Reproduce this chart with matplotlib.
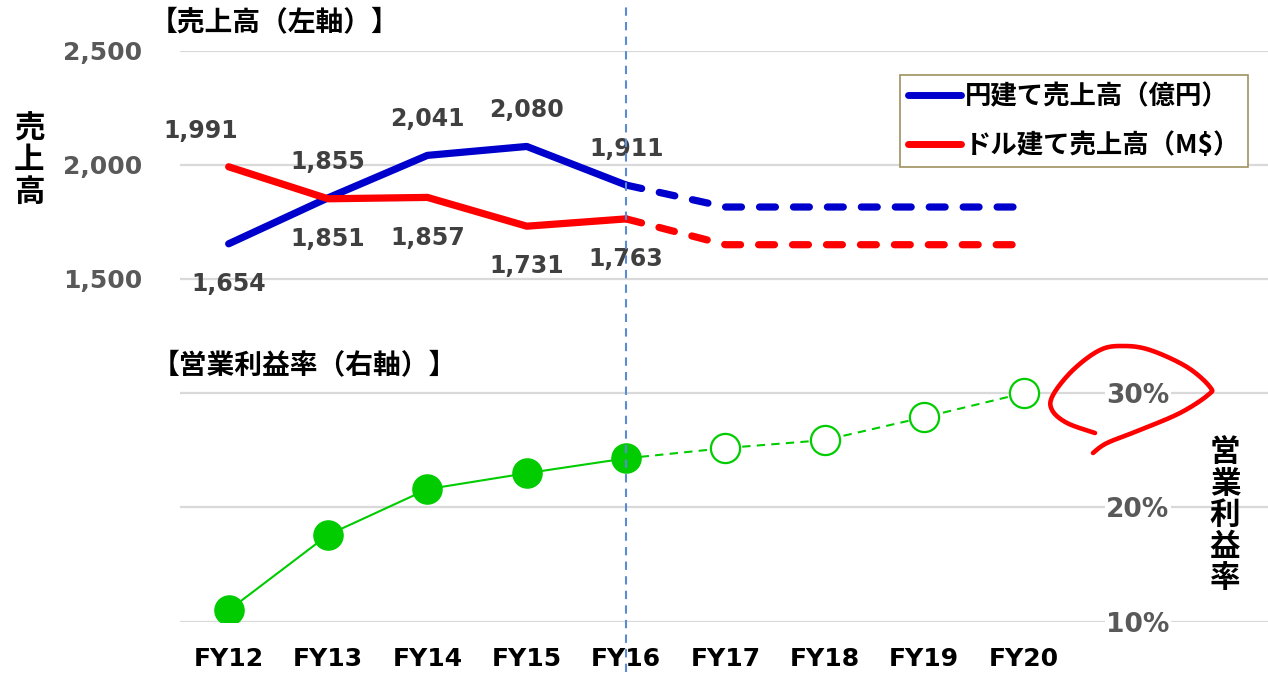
import numpy as np
import matplotlib
matplotlib.use("Agg")
import matplotlib.pyplot as plt
from matplotlib.lines import Line2D

plt.rcParams['font.family'] = ['DejaVu Sans']
JP = ['Noto Sans CJK JP', 'DejaVu Sans']

# data
years = ['FY12', 'FY13', 'FY14', 'FY15', 'FY16', 'FY17', 'FY18', 'FY19', 'FY20']
n_actual = 5  # FY12-FY16 actual, rest are plan
sales_yen = [1654, 1855, 2041, 2080, 1911, 1815, 1815, 1815, 1815]
sales_usd = [1991, 1851, 1857, 1731, 1763, 1650, 1650, 1650, 1650]
op_margin = [11.0, 17.6, 21.6, 23.0, 24.3, 25.2, 25.9, 27.9, 30.0]
left_ticks = [1500, 2000, 2500]
right_ticks = [10, 20, 30]

BLUE = '#0000CC'
RED = '#FF0000'
GREEN = '#00CC00'
GRID = '#D9D9D9'

W, H = 1268, 676
fig = plt.figure(figsize=(W / 100, H / 100), dpi=100)
ax_l, ax_r, ax_t, ax_b = 180, 1268, 50.5, 621.7
ax = fig.add_axes([ax_l / W, 1 - ax_b / H, (ax_r - ax_l) / W, (ax_b - ax_t) / H])
ax2 = ax.twinx()

x = np.arange(len(years))
xa = x[:n_actual]
xp = x[n_actual - 1:]

# sales lines
for vals, col in [(sales_yen, BLUE), (sales_usd, RED)]:
    ax.plot(xa, vals[:n_actual], color=col, lw=5.2, solid_capstyle='round',
            solid_joinstyle='round', zorder=3)
    ax.plot(xp, vals[n_actual - 1:], color=col, lw=5.2, dashes=(2.2, 2.5),
            dash_capstyle='round', zorder=3)

# data labels: higher series above, lower below
for i in range(n_actual):
    for vals, other in [(sales_yen, sales_usd), (sales_usd, sales_yen)]:
        above = vals[i] > other[i]
        dx = -20 if (i == 0 and above) else 0
        dy = 26 if above else -29
        ax.annotate(f'{vals[i]:,}', (x[i], vals[i]), xytext=(dx, dy),
                    textcoords='offset points', ha='center', va='center',
                    fontsize=17, fontweight='bold', color='#404040')

ax.set_ylim(0, 2500)
ax.set_xlim(-0.49, 10.46)
ax.set_yticks(left_ticks)
ax.set_yticklabels([f'{v:,}' for v in left_ticks])
ax.tick_params(axis='y', length=0, pad=27, labelsize=18, labelcolor='#595959')
ax.set_xticks(x)
ax.set_xticklabels(years)
ax.tick_params(axis='x', length=0, pad=18, labelsize=18, labelcolor='black')
for lbl in ax.get_xticklabels() + ax.get_yticklabels():
    lbl.set_fontweight('bold')
ax.yaxis.grid(True, color=GRID, lw=1.6)
ax.set_axisbelow(True)

# operating margin
ax2.plot(xa, op_margin[:n_actual], color=GREEN, lw=1.5, marker='o', ms=21,
         mfc=GREEN, mec=GREEN, zorder=3)
ax2.plot(xp, op_margin[n_actual - 1:], color=GREEN, lw=1.5, dashes=(4, 3),
         zorder=2)
ax2.plot(x[n_actual:], op_margin[n_actual:], ls='none', marker='o', ms=21,
         mfc='white', mec=GREEN, mew=1.6, zorder=3)
ax2.set_ylim(10, 60)
ax2.set_yticks(right_ticks)
ax2.set_yticklabels([f'{v}%' for v in right_ticks])
ax2.tick_params(axis='y', length=0, pad=-93.6, labelsize=19, labelcolor='#595959')
for lbl in ax2.get_yticklabels():
    lbl.set_fontweight('bold')
    lbl.set_ha('center')
    lbl.set_bbox(dict(facecolor='white', edgecolor='none', pad=1))
ax2.yaxis.grid(True, color=GRID, lw=1.6)
ax2.set_axisbelow(True)

for a in (ax, ax2):
    for s in a.spines.values():
        s.set_visible(False)

# divider between actual and plan
ax2.axvline(x[n_actual - 1], ymin=(ax_b - 672) / (ax_b - ax_t),
            ymax=(ax_b - 5) / (ax_b - ax_t), color='#5B8BD0', lw=1.5,
            dashes=(4, 3), clip_on=False, zorder=5)

# legend
handles = [Line2D([], [], color=BLUE, lw=5, solid_capstyle='round'),
           Line2D([], [], color=RED, lw=5, solid_capstyle='round')]
leg = ax2.legend(handles, ['円建て売上高（億円）', 'ドル建て売上高（M$）'],
                 loc='upper right', bbox_to_anchor=(1248 / W, 1 - 75 / H),
                 bbox_transform=fig.transFigure, fancybox=False, framealpha=1,
                 edgecolor='#A0915F', handlelength=2.0, handletextpad=0.15,
                 labelspacing=0.85, borderpad=0.3, borderaxespad=0,
                 prop=dict(family=JP, weight='bold', size=19))
leg.get_frame().set_linewidth(1.2)

# titles and axis names
fig.text(150 / W, 1 - 23 / H, '【売上高（左軸）】', ha='left', va='center',
         family=JP, fontweight='bold', fontsize=20)
fig.text(152 / W, 1 - 366 / H, '【営業利益率（右軸）】', ha='left', va='center',
         family=JP, fontweight='bold', fontsize=20)
fig.text(29 / W, 1 - 160 / H, '売\n上\n高', ha='center', va='center',
         family=JP, fontweight='bold', fontsize=22, linespacing=0.98)
fig.text(1225 / W, 1 - 515 / H, '営\n業\n利\n益\n率', ha='center', va='center',
         family=JP, fontweight='bold', fontsize=22, linespacing=0.98)

# red hand-drawn circle around 30%
pts = np.array([(1095, 433), (1067, 423), (1052, 410), (1053, 395), (1073, 370),
                (1100, 350), (1123, 346), (1150, 350), (1187, 367), (1210, 387),
                (1208, 395), (1180, 413), (1140, 430), (1107, 443), (1093, 453)],
               dtype=float)
P = np.vstack([pts[0], pts, pts[-1]])
curve = []
for k in range(1, len(P) - 2):
    p0, p1, p2, p3 = P[k - 1], P[k], P[k + 1], P[k + 2]
    for t in np.linspace(0, 1, 12, endpoint=False):
        curve.append(0.5 * ((2 * p1) + (-p0 + p2) * t
                            + (2 * p0 - 5 * p1 + 4 * p2 - p3) * t ** 2
                            + (-p0 + 3 * p1 - 3 * p2 + p3) * t ** 3))
curve.append(P[-2])
curve = np.array(curve)
fig.add_artist(Line2D(curve[:, 0] / W, 1 - curve[:, 1] / H, color='#FF0000',
                      lw=3.3, solid_capstyle='round', solid_joinstyle='round',
                      transform=fig.transFigure, zorder=10))

fig.savefig('out.png', dpi=100)
